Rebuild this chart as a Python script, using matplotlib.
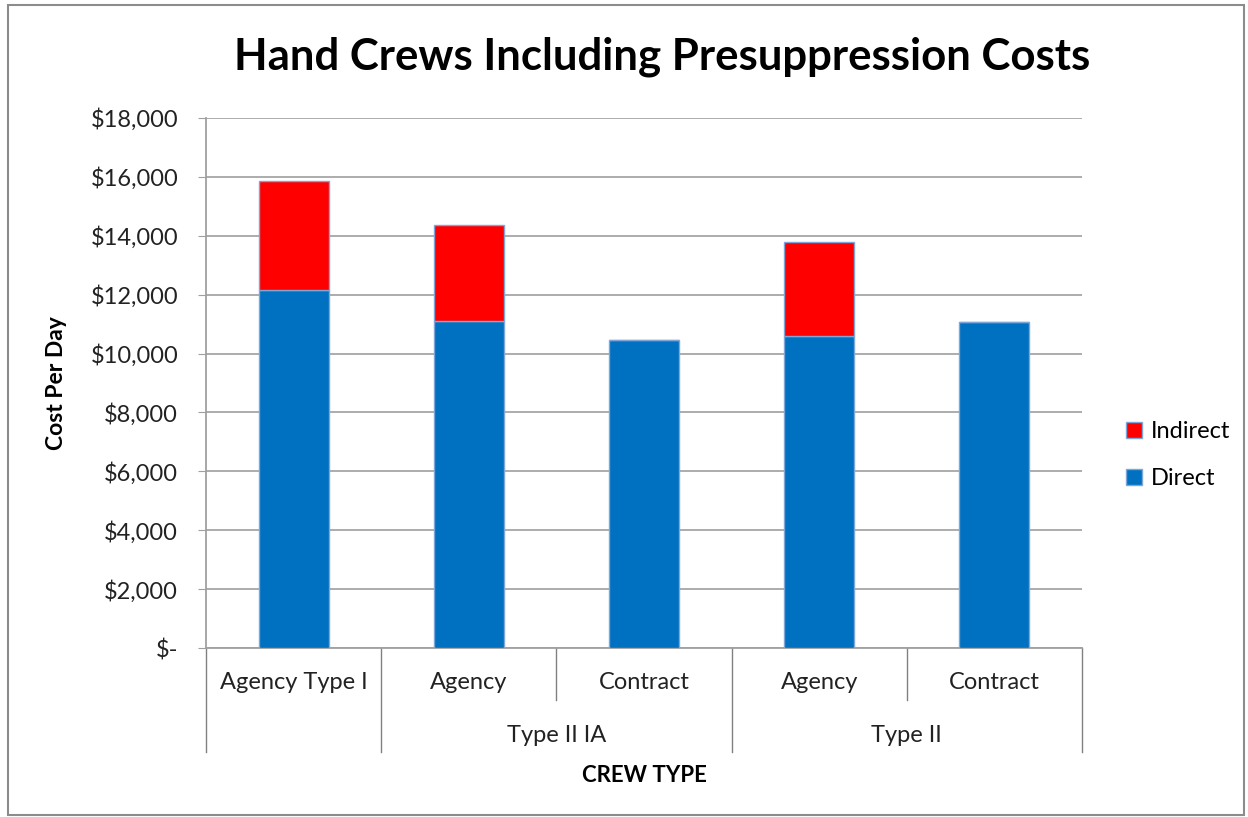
import matplotlib.pyplot as plt
from matplotlib.patches import Rectangle
from matplotlib.ticker import FuncFormatter

# data
categories = ['Agency Type I', 'Agency', 'Contract', 'Agency', 'Contract']
groups = ['', 'Type II IA', 'Type II']
group_spans = [(0, 0), (1, 2), (3, 4)]
direct = [12170, 11110, 10460, 10600, 11060]
indirect = [3690, 3270, 0, 3190, 0]

plt.rcParams['font.family'] = ['Lato', 'DejaVu Sans']

fig = plt.figure(figsize=(12.48, 8.17), dpi=100)
ax = fig.add_axes([206/1248, 1-648/817, 876/1248, 530/817])

x = list(range(len(categories)))
edge = '#7fa6d9'
ax.bar(x, direct, width=0.4, color='#0070C0', edgecolor=edge, linewidth=1, label='Direct', zorder=3)
ax.bar(x, indirect, width=0.4, bottom=direct, color='#FF0000', edgecolor=edge, linewidth=1,
       label='Indirect', zorder=3)

ax.set_xlim(-0.5, len(categories)-0.5)
ax.set_ylim(0, 18000)
ax.set_yticks(range(0, 18001, 2000))
ax.yaxis.set_major_formatter(FuncFormatter(lambda v, p: '$-' if v == 0 else '${:,.0f}'.format(v)))
ax.tick_params(axis='y', labelsize=17, length=6, color='#a0a0a0', pad=14, labelcolor='#222222')
ax.set_xticks([])
ax.grid(axis='y', color='#a6a6a6', linewidth=1.3, zorder=0)
for s in ['top', 'right']:
    ax.spines[s].set_visible(False)
for s in ['left', 'bottom']:
    ax.spines[s].set_color('#a0a0a0')
    ax.spines[s].set_linewidth(1.3)

# hierarchical category labels under the axis
tr = ax.get_xaxis_transform()
for i, c in enumerate(categories):
    ax.text(i, -0.066, c, transform=tr, ha='center', va='center', fontsize=17, color='#222222')
for b in [1.5, 3.5]:
    ax.plot([b, b], [0, -0.098], transform=tr, color='#808080', lw=1, clip_on=False)
for b in [-0.5, 0.5, 2.5, 4.5]:
    ax.plot([b, b], [0, -0.196], transform=tr, color='#808080', lw=1, clip_on=False)
for g, (a, b) in zip(groups, group_spans):
    if g:
        ax.text((a+b)/2, -0.166, g, transform=tr, ha='center', va='center', fontsize=17, color='#222222')

ax.text(2, -0.24, 'CREW TYPE', transform=tr, ha='center', va='center', fontsize=16, fontweight='bold')
ax.set_ylabel('Cost Per Day', fontsize=16.5, fontweight='bold')
ax.yaxis.set_label_coords((67-206)/876, 0.5)

fig.text(662/1248, 1-57/817, 'Hand Crews Including Presuppression Costs', ha='center', va='center',
         fontsize=31.5, fontweight='bold')

# legend
h, l = ax.get_legend_handles_labels()
fig.legend(h[::-1], l[::-1], loc='center left', bbox_to_anchor=(1105/1248, 1-455/817), frameon=False,
           fontsize=17, handlelength=0.65, handleheight=0.65, labelspacing=1.1, handletextpad=0.4)

# outer chart border
fig.patches.append(Rectangle((8/1248, 2/817), 1236/1248, 810/817, transform=fig.transFigure,
                             fill=False, edgecolor='#8c8c8c', lw=1.5))

fig.savefig('out.png', dpi=100)
